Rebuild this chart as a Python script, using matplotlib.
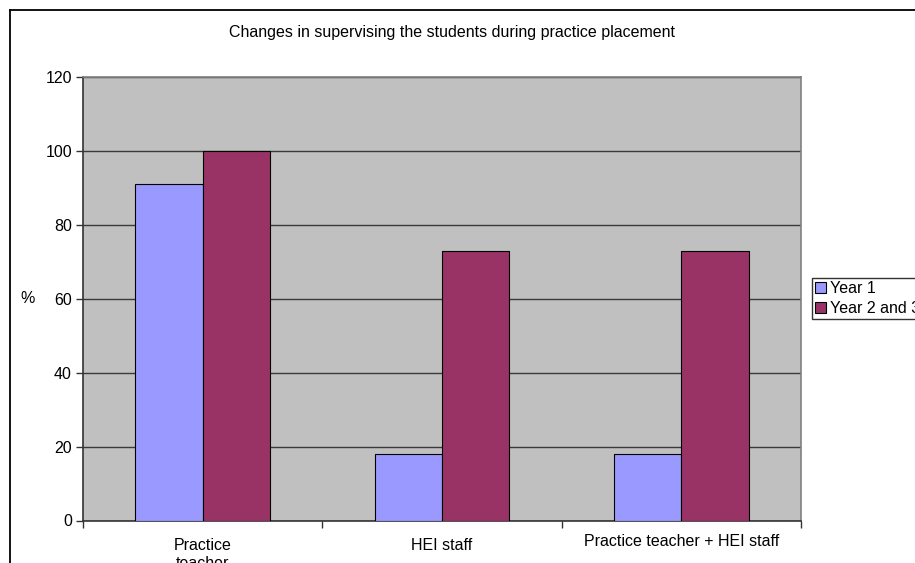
import matplotlib
matplotlib.use("Agg")
import matplotlib.pyplot as plt
import numpy as np
from matplotlib.lines import Line2D
from matplotlib.transforms import ScaledTranslation

plt.rcParams['font.family'] = ['Liberation Sans', 'DejaVu Sans']

categories = ["Practice\nteacher", "HEI staff", "Practice teacher + HEI staff"]
series_names = ["Year 1", "Year 2 and 3"]
year1 = [91, 18, 18]
year23 = [100, 73, 73]
yticks = [0, 20, 40, 60, 80, 100, 120]

FS = 11.5
W, H = 915, 563
fig = plt.figure(figsize=(W / 100, H / 100), dpi=100)
fig.patch.set_facecolor('white')

# outer chart frame (cropped on right and bottom)
fig.add_artist(Line2D([10 / W, 10 / W], [0, 1 - 10 / H], transform=fig.transFigure,
                      color='black', lw=1.3))
fig.add_artist(Line2D([10 / W, 1], [1 - 10 / H, 1 - 10 / H], transform=fig.transFigure,
                      color='black', lw=1.3))

left, right = 83 / W, 801 / W
bottom, top = 1 - 520.5 / H, 1 - 77 / H
ax = fig.add_axes([left, bottom, right - left, top - bottom])
ax.set_facecolor('#C0C0C0')

x = np.arange(len(categories))
bw = 0.282
ax.bar(x - bw / 2, year1, width=bw, color='#9999FF', edgecolor='black', linewidth=0.8,
       label=series_names[0], zorder=3)
ax.bar(x + bw / 2, year23, width=bw, color='#993366', edgecolor='black', linewidth=0.8,
       label=series_names[1], zorder=3)

ax.set_xlim(-0.5, len(categories) - 0.5)
ax.set_ylim(0, 120)
ax.set_yticks(yticks)
ax.yaxis.grid(True, color='#3a3a3a', linewidth=1.0, zorder=1)
ax.set_axisbelow(True)

# category boundaries as major ticks, labels at centres via minor ticks
ax.set_xticks(np.arange(len(categories) + 1) - 0.5)
ax.set_xticklabels([])
ax.set_xticks(x, minor=True)
ax.set_xticklabels(categories, minor=True, fontsize=FS)
ax.tick_params(axis='x', which='major', direction='out', length=5, width=1, color='#333333')
ax.tick_params(axis='x', which='minor', length=0, pad=12.4)
ax.tick_params(axis='y', direction='out', length=5, width=1, color='#333333', labelsize=FS, pad=3)

labs = ax.get_xticklabels(minor=True)
for lab in labs:
    lab.set_verticalalignment('top')
labs[0].set_linespacing(1.3)
labs[2].set_transform(labs[2].get_transform() + ScaledTranslation(0, 4 / 100, fig.dpi_scale_trans))

for s in ax.spines.values():
    s.set_color('#808080')
    s.set_linewidth(1.2)
ax.spines['left'].set_color('#333333')
ax.spines['bottom'].set_color('#333333')

ax.set_ylabel('%', rotation=0, fontsize=FS, va='center', ha='center')
ax.yaxis.set_label_coords(-(83 - 28) / 718, 0.5)

fig.text(452 / W, 1 - 32 / H,
         'Changes in supervising the students during practice placement',
         ha='center', va='center', fontsize=FS)

leg = fig.legend(loc='upper left', bbox_to_anchor=(812 / W, 1 - 278 / H),
                 fontsize=FS, frameon=True, fancybox=False, shadow=False,
                 handlelength=0.7, handleheight=0.7, handletextpad=0.2,
                 borderpad=0.2, labelspacing=0.3, borderaxespad=0)
leg.get_frame().set_edgecolor('black')
leg.get_frame().set_linewidth(1.0)

fig.savefig('out.png', dpi=100)
